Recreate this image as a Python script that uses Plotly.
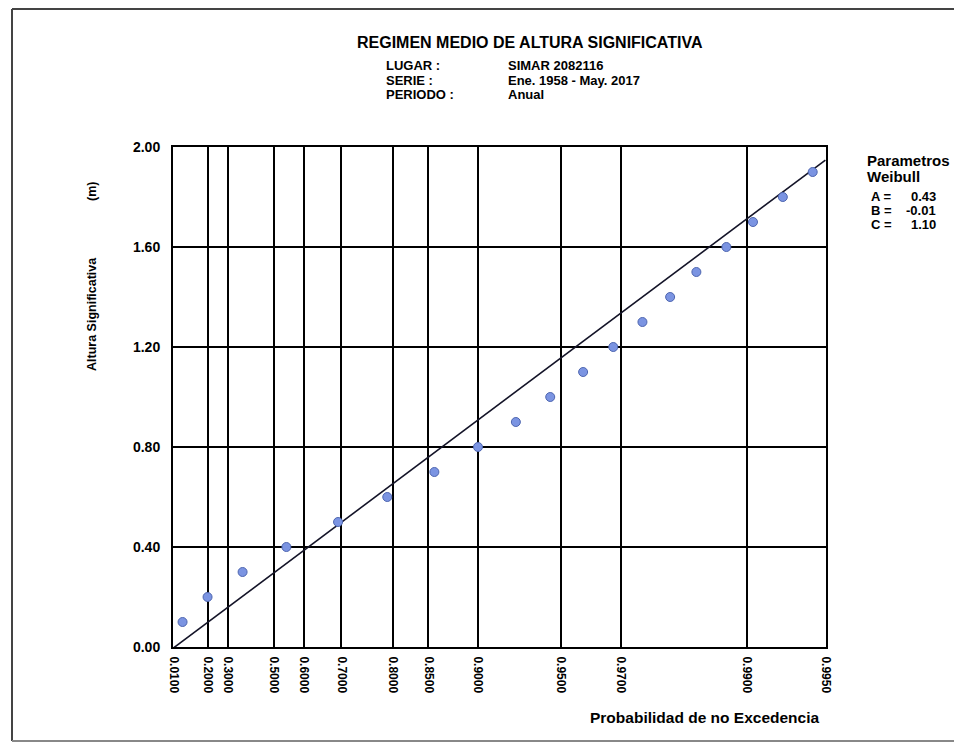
import numpy as np
import plotly.graph_objects as go

# ---- data ----
altura = [0.10, 0.20, 0.30, 0.40, 0.50, 0.60, 0.70, 0.80, 0.90, 1.00,
          1.10, 1.20, 1.30, 1.40, 1.50, 1.60, 1.70, 1.80, 1.90]
prob_no_exc = [0.0585, 0.197, 0.370, 0.543, 0.692, 0.791, 0.857, 0.900, 0.927, 0.9453,
               0.9586, 0.968, 0.9751, 0.9804, 0.9844, 0.9880, 0.9905, 0.9927, 0.9944]
x_tick_probs = [0.01, 0.20, 0.30, 0.50, 0.60, 0.70, 0.80, 0.85, 0.90, 0.95, 0.97, 0.99, 0.995]
x_tick_text = ["0.0100", "0.2000", "0.3000", "0.5000", "0.6000", "0.7000", "0.8000",
               "0.8500", "0.9000", "0.9500", "0.9700", "0.9900", "0.9950"]
y_tick_vals = [0.0, 0.4, 0.8, 1.2, 1.6, 2.0]
y_tick_text = ["0.00", "0.40", "0.80", "1.20", "1.60", "2.00"]
weibull_A = 0.43
weibull_B = -0.01
weibull_C = 1.10
line_probs = [0.01, 0.995]

FONT = "Liberation Sans, Arial, sans-serif"


def wscale(p):
    p = np.asarray(p, dtype=float)
    return (-np.log(1.0 - p)) ** (1.0 / weibull_C)


x_pts = wscale(prob_no_exc)
x_ticks = wscale(x_tick_probs)
x_line = wscale(line_probs)
y_line = weibull_B + weibull_A * x_line

# page body margin of the browser (8 px each side) is compensated here
OFF = 8
W, H = 962 - 2 * OFF, 750 - 2 * OFF
L, R, T, B = 173 - OFF, 826 - OFF, 147 - OFF, 647 - OFF


def px(x):
    return (x - OFF - L) / (R - L)


def py(y):
    return (B - (y - OFF)) / (B - T)


fig = go.Figure()
fig.add_trace(go.Scatter(x=x_line, y=y_line, mode="lines",
                         line=dict(color="#141428", width=1.6),
                         showlegend=False, hoverinfo="skip"))
fig.add_trace(go.Scatter(x=x_pts, y=altura, mode="markers",
                         marker=dict(size=9, color="#7b94e2",
                                     line=dict(color="#4e66b0", width=1)),
                         showlegend=False))

fig.update_layout(
    width=W, height=H,
    margin=dict(l=L, r=W - R, t=T, b=H - B),
    paper_bgcolor="white", plot_bgcolor="white",
    font=dict(family=FONT, color="black", size=12),
    xaxis=dict(range=[float(wscale(0.01)) - 0.004, float(wscale(0.995)) + 0.004],
               tickmode="array", tickvals=list(x_ticks),
               ticktext=["<b>%s</b>" % t for t in x_tick_text],
               tickangle=90, tickfont=dict(size=12, family=FONT),
               showgrid=True, gridcolor="black", gridwidth=1.8,
               showline=True, linecolor="black", linewidth=2, mirror=True,
               zeroline=False, ticks="", ticklabelstandoff=5),
    yaxis=dict(range=[0, 2], tickmode="array", tickvals=y_tick_vals,
               ticktext=["<b>%s</b>" % t for t in y_tick_text],
               tickfont=dict(size=14, family=FONT),
               showgrid=True, gridcolor="black", gridwidth=1.8,
               showline=True, linecolor="black", linewidth=2, mirror=True,
               zeroline=False, ticks="", ticklabelstandoff=8),
)

ann = []


def add(text, x, y, xanchor="left", size=13, angle=0):
    ann.append(dict(text="<b>%s</b>" % text, x=px(x), y=py(y), xref="paper", yref="paper",
                    xanchor=xanchor, yanchor="middle", showarrow=False, textangle=angle,
                    font=dict(family=FONT, size=size, color="black")))


add("REGIMEN MEDIO DE ALTURA SIGNIFICATIVA", 530, 42, "center", 16)
add("LUGAR :", 384, 65, "left", 13)
add("SERIE :", 384, 80, "left", 13)
add("PERIODO :", 384, 95, "left", 13)
add("SIMAR 2082116", 506, 65, "left", 13)
add("Ene. 1958 - May. 2017", 506, 80, "left", 13)
add("Anual", 506, 95, "left", 13)
add("Altura Significativa", 92, 314, "center", 12.5, -90)
add("(m)", 92, 192, "center", 12.5, -90)
add("Probabilidad de no Excedencia", 821, 717, "right", 15.5)
add("Parametros", 865, 160, "left", 15)
add("Weibull", 865, 176, "left", 15)
for lab, val, yy in [("A =", "%.2f" % weibull_A, 196),
                     ("B =", "%.2f" % weibull_B, 210),
                     ("C =", "%.2f" % weibull_C, 224)]:
    add(lab, 869, yy, "left", 13)
    add(val, 938, yy, "right", 13)

fig.update_layout(annotations=ann)

# outer page frame (left, top, bottom edges only)
frame_lines = [
    (12, 9, 12, 741, "#444444"),
    (12, 9, 962, 9, "#444444"),
    (12, 741, 962, 741, "#888888"),
]
for x0, y0, x1, y1, col in frame_lines:
    fig.add_shape(type="line", xref="paper", yref="paper",
                  x0=px(x0), y0=py(y0), x1=px(x1), y1=py(y1),
                  line=dict(color=col, width=2), layer="below")

fig.write_html("out.html")
